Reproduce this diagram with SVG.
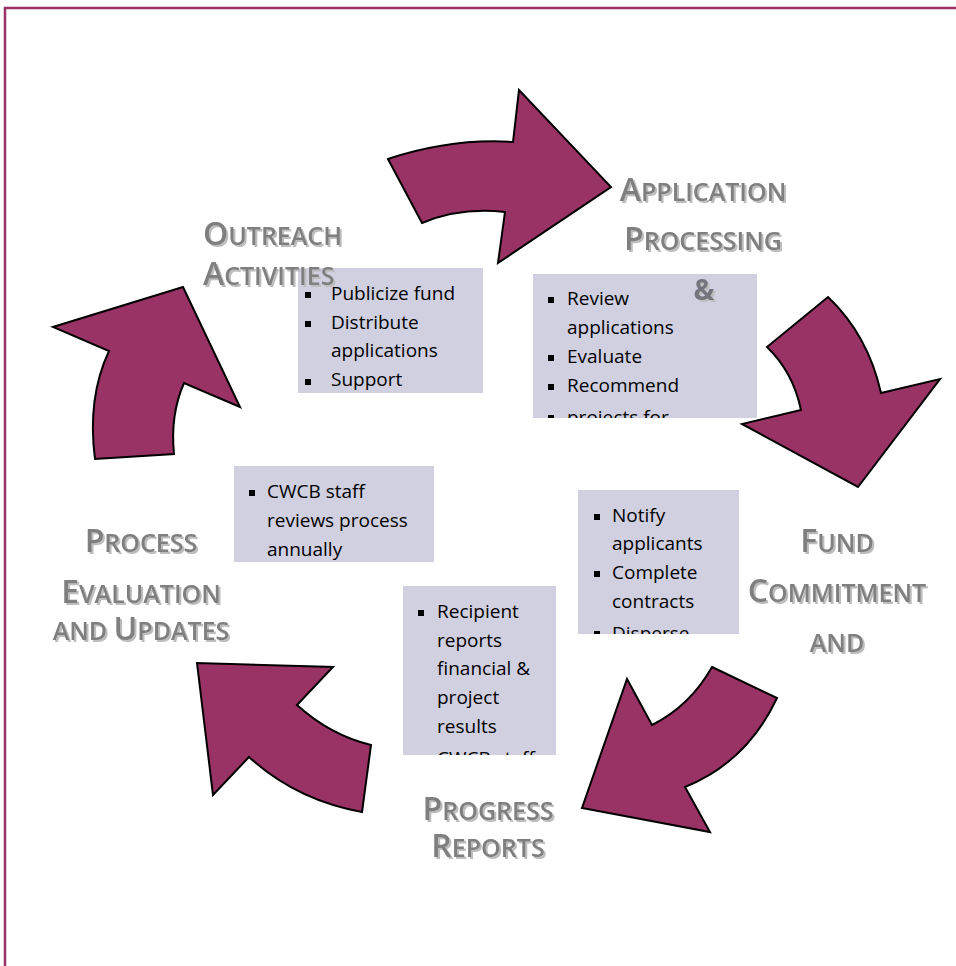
<svg xmlns="http://www.w3.org/2000/svg" width="956" height="966" viewBox="0 0 956 966">
<defs>
<style>
.frame{fill:none;stroke:#993366;stroke-width:2.5}
.arrow{fill:#993366;stroke:#000;stroke-width:2;stroke-linejoin:miter}
.box{fill:#d0d0e1}
.body{font-family:"Open Sans","DejaVu Sans",sans-serif;font-size:19px;fill:#000}
.title{font-family:"Open Sans","DejaVu Sans",sans-serif;font-size:32px;font-weight:600;fill:#7f7f7f;filter:url(#shadow)}
.sc{font-size:25px}
.amp{font-size:28px;font-weight:700;fill:#74747f}
.bul{fill:#000}
</style>
<filter id="shadow" x="-10%" y="-20%" width="130%" height="150%">
<feDropShadow dx="2" dy="2" stdDeviation="0.6" flood-color="#bdbdbd" flood-opacity="1"/>
</filter>
<clipPath id="c1"><rect x="298" y="268" width="185" height="125"/></clipPath>
<clipPath id="c2"><rect x="533" y="274" width="224" height="144"/></clipPath>
<clipPath id="c3"><rect x="578" y="490" width="161" height="144"/></clipPath>
<clipPath id="c4"><rect x="403" y="586" width="153" height="169"/></clipPath>
<clipPath id="c5"><rect x="234" y="466" width="200" height="96"/></clipPath>
</defs>

<rect class="frame" x="5" y="8" width="1000" height="1000"/>

<g id="connectors">
<path class="arrow" d="M388,159 Q452,138 513,142 L519,90 L611,187 L498,263 L505,212 Q460,207 422,223 Z"/>
<path class="arrow" d="M828,297 Q868,335 881,393 L940,379 L858,487 L742,424 L801,410 Q793,372 767,347 Z"/>
<path class="arrow" d="M712,667 L777,698 Q747,762 685,787 L710,832 L582,808 L627,679 L652,725 Q690,706 712,667 Z"/>
<path class="arrow" d="M371,745 L362,812 Q296,800 249,757 L213,795 L197,663 L333,667 L297,705 Q330,735 371,745 Z"/>
<path class="arrow" d="M95,459 Q87,398 109,351 L53,327 L183,287 L240,407 L184,383 Q170,415 174,454 Z"/>
</g>

<g id="outreach">
<rect class="box" x="298" y="268" width="185" height="125"/>
<g clip-path="url(#c1)">
<rect class="bul" x="305" y="292" width="6" height="6"/>
<rect class="bul" x="305" y="321" width="6" height="6"/>
<rect class="bul" x="305" y="379" width="6" height="6"/>
<text class="body" x="331" y="300">Publicize fund</text>
<text class="body" x="331" y="329">Distribute</text>
<text class="body" x="331" y="357">applications</text>
<text class="body" x="331" y="386">Support</text>
</g>
<text class="title" x="203" y="245">O<tspan class="sc">UTREACH</tspan></text>
<text class="title" x="203" y="285">A<tspan class="sc">CTIVITIES</tspan></text>
</g>

<g id="application">
<rect class="box" x="533" y="274" width="224" height="144"/>
<g clip-path="url(#c2)">
<rect class="bul" x="548" y="297" width="6" height="6"/>
<rect class="bul" x="548" y="355" width="6" height="6"/>
<rect class="bul" x="548" y="384" width="6" height="6"/>
<rect class="bul" x="548" y="415" width="6" height="6"/>
<text class="body" x="567" y="305">Review</text>
<text class="body" x="567" y="334">applications</text>
<text class="body" x="567" y="363">Evaluate</text>
<text class="body" x="567" y="392">Recommend</text>
<text class="body" x="567" y="424">projects for</text>
</g>
<text class="title" x="703" y="201" text-anchor="middle">A<tspan class="sc">PPLICATION</tspan></text>
<text class="title" x="703" y="250" text-anchor="middle">P<tspan class="sc">ROCESSING</tspan></text>
<text class="title amp" x="704" y="300" text-anchor="middle">&amp;</text>
</g>

<g id="fund">
<rect class="box" x="578" y="490" width="161" height="144"/>
<g clip-path="url(#c3)">
<rect class="bul" x="594" y="514" width="6" height="6"/>
<rect class="bul" x="594" y="571" width="6" height="6"/>
<rect class="bul" x="594" y="631" width="6" height="6"/>
<text class="body" x="612" y="522">Notify</text>
<text class="body" x="612" y="550">applicants</text>
<text class="body" x="612" y="579">Complete</text>
<text class="body" x="612" y="608">contracts</text>
<text class="body" x="612" y="640">Disperse</text>
</g>
<text class="title" x="837" y="552" text-anchor="middle">F<tspan class="sc">UND</tspan></text>
<text class="title" x="837" y="602" text-anchor="middle">C<tspan class="sc">OMMITMENT</tspan></text>
<text class="title sc" x="837" y="652" text-anchor="middle">AND</text>
</g>

<g id="progress">
<rect class="box" x="403" y="586" width="153" height="169"/>
<g clip-path="url(#c4)">
<rect class="bul" x="418" y="610" width="6" height="6"/>
<rect class="bul" x="418" y="756" width="6" height="6"/>
<text class="body" x="437" y="618">Recipient</text>
<text class="body" x="437" y="647">reports</text>
<text class="body" x="437" y="675">financial &amp;</text>
<text class="body" x="437" y="704">project</text>
<text class="body" x="437" y="733">results</text>
<text class="body" x="437" y="765">CWCB staff</text>
</g>
<text class="title" x="488" y="820" text-anchor="middle">P<tspan class="sc">ROGRESS</tspan></text>
<text class="title" x="488" y="857" text-anchor="middle">R<tspan class="sc">EPORTS</tspan></text>
</g>

<g id="evaluation">
<rect class="box" x="234" y="466" width="200" height="96"/>
<g clip-path="url(#c5)">
<rect class="bul" x="249" y="490" width="6" height="6"/>
<text class="body" x="267" y="498">CWCB staff</text>
<text class="body" x="267" y="527">reviews process</text>
<text class="body" x="267" y="556">annually</text>
</g>
<text class="title" x="141" y="552" text-anchor="middle">P<tspan class="sc">ROCESS</tspan></text>
<text class="title" x="141" y="603" text-anchor="middle">E<tspan class="sc">VALUATION</tspan></text>
<text class="title" x="141" y="640" text-anchor="middle"><tspan class="sc">AND </tspan>U<tspan class="sc">PDATES</tspan></text>
</g>
</svg>
